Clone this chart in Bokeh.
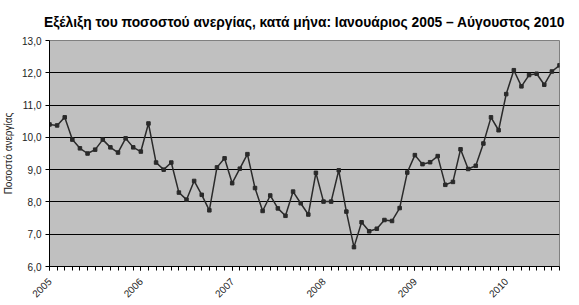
import math
from bokeh.plotting import figure
from bokeh.models import Range1d, FixedTicker
from bokeh.embed import file_html
from bokeh.resources import INLINE

# Monthly unemployment rate, Jan 2005 - Aug 2010
months = list(range(68))
rate = [10.40, 10.37, 10.62, 9.93, 9.66, 9.50, 9.62, 9.93, 9.69, 9.53, 9.97, 9.69,
        9.56, 10.43, 9.22, 9.00, 9.22, 8.29, 8.07, 8.65, 8.22, 7.74, 9.07, 9.35,
        8.58, 9.03, 9.48, 8.43, 7.72, 8.20, 7.80, 7.57, 8.32, 7.96, 7.61, 8.90,
        8.01, 8.01, 8.98, 7.70, 6.60, 7.37, 7.09, 7.17, 7.44, 7.41, 7.81, 8.91,
        9.45, 9.17, 9.23, 9.42, 8.53, 8.62, 9.63, 9.02, 9.12, 9.81, 10.62, 10.22,
        11.34, 12.08, 11.58, 11.93, 11.97, 11.63, 12.04, 12.23]

years = ["2005", "2006", "2007", "2008", "2009", "2010"]
year_pos = [0, 12, 24, 36, 48, 60]
y_ticks = [6, 7, 8, 9, 10, 11, 12, 13]
y_tick_labels = ["6,0", "7,0", "8,0", "9,0", "10,0", "11,0", "12,0", "13,0"]
grid_ticks = [7, 8, 9, 10, 11, 12]

title_text = "Εξέλιξη του ποσοστού ανεργίας, κατά μήνα: Ιανουάριος 2005 – Αύγουστος 2010"
y_label = "Ποσοστό ανεργίας"

FONT = "Liberation Sans"

p = figure(width=579, height=305, output_backend="svg", toolbar_location=None,
           x_range=Range1d(0, 67), y_range=Range1d(6, 13),
           min_border_left=49, min_border_right=20,
           min_border_top=40, min_border_bottom=39)

p.title.text = title_text
p.title.align = "center"
p.title.offset = 4
p.title.text_font = FONT
p.title.text_font_size = "13.8px"
p.title.text_font_style = "bold"
p.title.text_color = "black"
p.title.standoff = 21

p.background_fill_color = "#C0C0C0"
p.border_fill_color = "white"
p.outline_line_color = "#808080"
p.outline_line_width = 1

p.xgrid.visible = False
p.ygrid.ticker = FixedTicker(ticks=grid_ticks)
p.ygrid.grid_line_color = "black"
p.ygrid.grid_line_width = 1

# Y axis
ya = p.yaxis[0]
ya.ticker = FixedTicker(ticks=y_ticks, minor_ticks=[])
ya.major_label_overrides = {t: l for t, l in zip(y_ticks, y_tick_labels)}
ya.major_tick_out = 4
ya.major_tick_in = 0
ya.minor_tick_out = 0
ya.minor_tick_in = 0
ya.axis_line_color = "black"
ya.major_tick_line_color = "black"
ya.major_label_text_font = FONT
ya.major_label_text_font_size = "10px"
ya.major_label_text_color = "#222222"
ya.major_label_standoff = 4
ya.axis_label = y_label
ya.axis_label_text_font = FONT
ya.axis_label_text_font_size = "10px"
ya.axis_label_text_font_style = "normal"
ya.axis_label_text_color = "#222222"
ya.axis_label_standoff = 5

# X axis
xa = p.xaxis[0]
xa.ticker = FixedTicker(ticks=year_pos, minor_ticks=months)
xa.major_label_overrides = {t: l for t, l in zip(year_pos, years)}
xa.major_label_orientation = math.pi / 4
xa.major_tick_out = 4
xa.major_tick_in = 0
xa.minor_tick_out = 4
xa.minor_tick_in = 0
xa.axis_line_color = "black"
xa.major_tick_line_color = "black"
xa.minor_tick_line_color = "black"
xa.major_label_text_font = FONT
xa.major_label_text_font_size = "10px"
xa.major_label_text_color = "#222222"
xa.major_label_standoff = 9

p.line(months, rate, line_color="#2a2a2a", line_width=1.5)
p.scatter(months, rate, marker="square", size=3.5, color="#2a2a2a")

open("out.html", "w").write(file_html(p, INLINE))
